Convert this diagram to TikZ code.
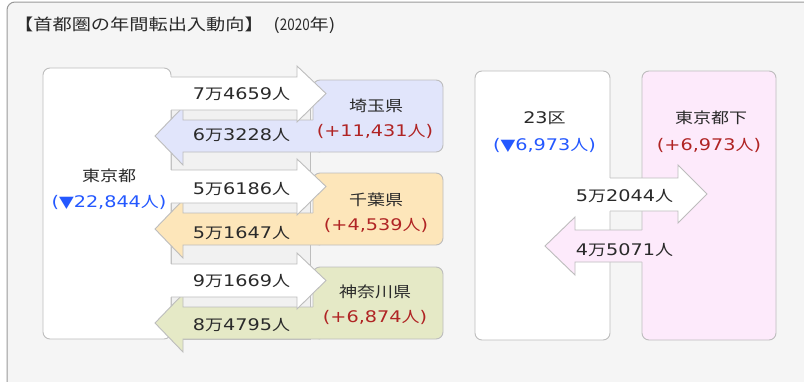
\documentclass[tikz,border=0pt]{standalone}
\usepackage{fontspec}
\setmainfont{Noto Sans CJK JP}
\newfontfamily\latfont{DejaVu Sans}
\definecolor{panel}{HTML}{F5F5F5}
\definecolor{strip}{HTML}{F1F1F1}
\definecolor{lineg}{HTML}{BDBDBD}
\definecolor{saitama}{HTML}{E1E5FB}
\definecolor{chiba}{HTML}{FDE6BA}
\definecolor{kanagawa}{HTML}{E5E9C6}
\definecolor{tokyosub}{HTML}{FDEAFB}
\definecolor{txt}{HTML}{2A2A2A}
\definecolor{blu}{HTML}{2458FF}
\definecolor{rd}{HTML}{B02424}
\newcommand\nm[1]{{\latfont\fontsize{16}{16}\selectfont #1}}
\newcommand\tx[1]{\scalebox{1.2}[1]{#1}}
\tikzset{
  boxline/.style={draw=lineg, line width=0.9pt},
  lbl/.style={inner sep=0pt, text=txt, text height=13pt, text depth=2pt, font=\fontsize{15}{15}\selectfont},
  blue lbl/.style={lbl, text=blu},
  red lbl/.style={lbl, text=rd},
}
\newcommand\colorshape[2]{%
  \draw[boxline, fill=#2, rounded corners=7] (313,#1) rectangle (443,#1+72);
  \fill[#2] (320,#1+40) -- (183,#1+40) -- (183,#1+27) -- (155,#1+56) -- (183,#1+85) -- (183,#1+72) -- (320,#1+72) -- cycle;
  \draw[boxline] (313,#1+40) -- (183,#1+40) -- (183,#1+27) -- (155,#1+56) -- (183,#1+85) -- (183,#1+72) -- (320,#1+72);
}
\newcommand\whitearrow[1]{%
  \fill[white] (167,#1-3) -- (297,#1-3) -- (297,#1-14) -- (326,#1+13.5) -- (297,#1+42) -- (297,#1+30) -- (167,#1+30) -- cycle;
  \draw[boxline] (171,#1-3) -- (297,#1-3) -- (297,#1-14) -- (326,#1+13.5) -- (297,#1+42) -- (297,#1+30) -- (171,#1+30);
}
\begin{document}
\begin{tikzpicture}[x=1pt, y=-1pt, line join=miter]
\useasboundingbox (0,0) rectangle (804,381);
\fill[white] (0,0) rectangle (804,381);
\draw[draw=gray!80, fill=panel, line width=1pt, rounded corners=8] (7,2) rectangle (830,400);
\node[anchor=west, inner sep=0pt, text=txt, text height=14pt, text depth=2pt, font=\fontsize{16}{16}\selectfont] (title) at (14,24) {\tx{【首都圏の年間転出入動向】\hspace{8pt}(\scalebox{0.7}[1]{2020}年)}};
% left group
\draw[boxline, fill=strip] (171,100) rectangle (310,339);
\draw[boxline, fill=white, rounded corners=7] (43,68) rectangle (171,339);
\colorshape{80}{saitama}
\colorshape{173}{chiba}
\colorshape{267}{kanagawa}
\whitearrow{80}
\whitearrow{173}
\whitearrow{267}
% right group
\draw[boxline, fill=white, rounded corners=7] (475,71) rectangle (610,340);
\draw[boxline, fill=tokyosub, rounded corners=7] (642,71) rectangle (776,340);
\fill[white] (607,178) -- (678,178) -- (678,165) -- (707,194) -- (678,223) -- (678,211) -- (607,211) -- cycle;
\draw[boxline] (610,178) -- (678,178) -- (678,165) -- (707,194) -- (678,223) -- (678,211) -- (610,211);
\fill[tokyosub] (645,230) -- (575,230) -- (575,217) -- (545,246) -- (575,275) -- (575,262) -- (645,262) -- cycle;
\draw[boxline] (642,230) -- (575,230) -- (575,217) -- (545,246) -- (575,275) -- (575,262) -- (642,262);
% labels
\node[lbl] (tokyo) at (109,175.5) {\tx{東京都}};
\node[blue lbl] (tokyoN) at (109,201.5) {\tx{\nm{(▼22,844}人\nm{)}}};
\node[lbl] (saiOut) at (241.5,94) {\tx{\nm{7}万\nm{4659}人}};
\node[lbl] (saiIn) at (241.5,134.5) {\tx{\nm{6}万\nm{3228}人}};
\node[lbl] (sai) at (376,105.5) {\tx{埼玉県}};
\node[red lbl] (saiN) at (375,131) {\tx{\nm{(+11,431}人\nm{)}}};
\node[lbl] (chiOut) at (241.5,188.5) {\tx{\nm{5}万\nm{6186}人}};
\node[lbl] (chiIn) at (241.5,232.5) {\tx{\nm{5}万\nm{1647}人}};
\node[lbl] (chi) at (376,199.5) {\tx{千葉県}};
\node[red lbl] (chiN) at (376,225) {\tx{\nm{(+4,539}人\nm{)}}};
\node[lbl] (kanOut) at (241.5,280.5) {\tx{\nm{9}万\nm{1669}人}};
\node[lbl] (kanIn) at (241.5,324.5) {\tx{\nm{8}万\nm{4795}人}};
\node[lbl] (kan) at (375,291.5) {\tx{神奈川県}};
\node[red lbl] (kanN) at (375,316.5) {\tx{\nm{(+6,874}人\nm{)}}};
\node[lbl] (ku) at (544.5,117.5) {\tx{\nm{23}区}};
\node[blue lbl] (kuN) at (544.5,145) {\tx{\nm{(▼6,973}人\nm{)}}};
\node[lbl] (sub) at (711,117.5) {\tx{東京都下}};
\node[red lbl] (subN) at (709,145) {\tx{\nm{(+6,973}人\nm{)}}};
\node[lbl] (kuOut) at (624.5,195.5) {\tx{\nm{5}万\nm{2044}人}};
\node[lbl] (kuIn) at (624.5,249.5) {\tx{\nm{4}万\nm{5071}人}};
\end{tikzpicture}
\end{document}
